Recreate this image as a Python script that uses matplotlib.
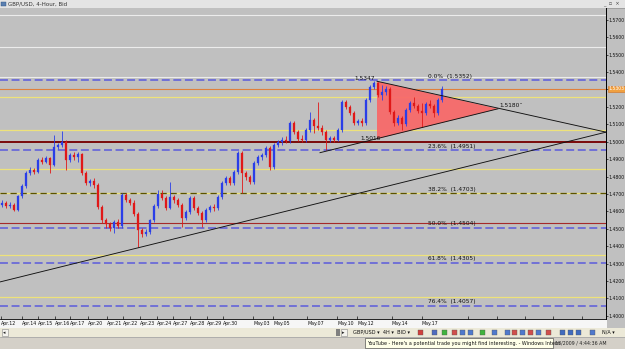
import numpy as np
import matplotlib
matplotlib.use('Agg')
import matplotlib.pyplot as plt
from matplotlib.patches import Rectangle, Polygon
import matplotlib.transforms as mtransforms

# ---------------- data (GBP/USD 4H) ----------------
opens = [1.4638, 1.4649, 1.4632, 1.4638, 1.4609, 1.4690, 1.4747, 1.4822, 1.4839, 1.4828,
         1.4897, 1.4885, 1.4908, 1.4868, 1.4971, 1.4983, 1.5000, 1.4897, 1.4925, 1.4914,
         1.4931, 1.4822, 1.4764, 1.4776, 1.4753, 1.4626, 1.4552, 1.4529, 1.4506, 1.4540,
         1.4517, 1.4695, 1.4667, 1.4649, 1.4586, 1.4494, 1.4471, 1.4483, 1.4552, 1.4632,
         1.4701, 1.4678, 1.4621, 1.4684, 1.4667, 1.4638, 1.4563, 1.4598, 1.4678, 1.4621,
         1.4592, 1.4552, 1.4609, 1.4626, 1.4621, 1.4684, 1.4764, 1.4793, 1.4764, 1.4828,
         1.4937, 1.4822, 1.4799, 1.4770, 1.4879, 1.4914, 1.4925, 1.4966, 1.4856, 1.4983,
         1.5000, 1.5012, 1.5006, 1.5109, 1.5058, 1.5017, 1.5012, 1.5069, 1.5127, 1.5092,
         1.5081, 1.5058, 1.5012, 1.5023, 1.5012, 1.5069, 1.5230, 1.5201, 1.5167, 1.5109,
         1.5121, 1.5109, 1.5242, 1.5316, 1.5339, 1.5270, 1.5288, 1.5305, 1.5173, 1.5109,
         1.5138, 1.5104, 1.5184, 1.5224, 1.5207, 1.5178, 1.5167, 1.5219, 1.5207, 1.5167,
         1.5242]
closes = [1.4649, 1.4632, 1.4638, 1.4609, 1.4690, 1.4747, 1.4822, 1.4839, 1.4828, 1.4897,
          1.4885, 1.4908, 1.4868, 1.4971, 1.4983, 1.5000, 1.4897, 1.4925, 1.4914, 1.4931,
          1.4822, 1.4764, 1.4776, 1.4753, 1.4626, 1.4552, 1.4529, 1.4506, 1.4540, 1.4517,
          1.4695, 1.4667, 1.4649, 1.4586, 1.4494, 1.4471, 1.4483, 1.4552, 1.4632, 1.4701,
          1.4678, 1.4621, 1.4684, 1.4667, 1.4638, 1.4563, 1.4598, 1.4678, 1.4621, 1.4592,
          1.4552, 1.4609, 1.4626, 1.4621, 1.4684, 1.4764, 1.4793, 1.4764, 1.4828, 1.4937,
          1.4822, 1.4799, 1.4770, 1.4879, 1.4914, 1.4925, 1.4966, 1.4856, 1.4983, 1.5000,
          1.5012, 1.5006, 1.5109, 1.5058, 1.5017, 1.5012, 1.5069, 1.5127, 1.5092, 1.5081,
          1.5058, 1.5012, 1.5023, 1.5012, 1.5069, 1.5230, 1.5201, 1.5167, 1.5109, 1.5121,
          1.5109, 1.5242, 1.5316, 1.5339, 1.5270, 1.5288, 1.5305, 1.5173, 1.5109, 1.5138,
          1.5104, 1.5184, 1.5224, 1.5207, 1.5178, 1.5167, 1.5219, 1.5207, 1.5167, 1.5242,
          1.5303]
highs = [1.4667, 1.4661, 1.4655, 1.4649, 1.4695, 1.4759, 1.4833, 1.4856, 1.4851, 1.4908,
         1.4914, 1.4920, 1.4914, 1.5040, 1.4994, 1.5063, 1.5012, 1.4937, 1.4943, 1.4943,
         1.4937, 1.4833, 1.4787, 1.4793, 1.4764, 1.4638, 1.4563, 1.4540, 1.4552, 1.4557,
         1.4707, 1.4707, 1.4678, 1.4667, 1.4598, 1.4506, 1.4500, 1.4557, 1.4644, 1.4724,
         1.4724, 1.4690, 1.4770, 1.4695, 1.4678, 1.4649, 1.4609, 1.4690, 1.4690, 1.4632,
         1.4603, 1.4621, 1.4638, 1.4644, 1.4695, 1.4776, 1.4805, 1.4805, 1.4839, 1.4948,
         1.4948, 1.4833, 1.4810, 1.4891, 1.4925, 1.4937, 1.4977, 1.4977, 1.4994, 1.5012,
         1.5029, 1.5035, 1.5121, 1.5121, 1.5069, 1.5040, 1.5081, 1.5173, 1.5138, 1.5230,
         1.5098, 1.5069, 1.5035, 1.5035, 1.5081, 1.5242, 1.5242, 1.5213, 1.5178, 1.5132,
         1.5138, 1.5253, 1.5328, 1.5347, 1.5345, 1.5328, 1.5322, 1.5316, 1.5184, 1.5155,
         1.5150, 1.5196, 1.5236, 1.5259, 1.5219, 1.5224, 1.5230, 1.5242, 1.5219, 1.5253,
         1.5322]
lows = [1.4626, 1.4621, 1.4621, 1.4603, 1.4603, 1.4678, 1.4736, 1.4810, 1.4816, 1.4822,
        1.4874, 1.4879, 1.4822, 1.4862, 1.4960, 1.4971, 1.4839, 1.4885, 1.4897, 1.4885,
        1.4810, 1.4753, 1.4747, 1.4736, 1.4615, 1.4534, 1.4506, 1.4488, 1.4477, 1.4506,
        1.4506, 1.4655, 1.4638, 1.4575, 1.4396, 1.4454, 1.4460, 1.4471, 1.4540, 1.4621,
        1.4667, 1.4609, 1.4615, 1.4649, 1.4626, 1.4511, 1.4552, 1.4586, 1.4609, 1.4580,
        1.4511, 1.4540, 1.4598, 1.4603, 1.4609, 1.4672, 1.4753, 1.4753, 1.4753, 1.4816,
        1.4707, 1.4782, 1.4759, 1.4759, 1.4868, 1.4897, 1.4914, 1.4839, 1.4845, 1.4971,
        1.4983, 1.4994, 1.4994, 1.5046, 1.5006, 1.5000, 1.5000, 1.5058, 1.5052, 1.5069,
        1.5040, 1.4954, 1.5000, 1.5000, 1.5006, 1.5058, 1.5190, 1.5155, 1.5098, 1.5098,
        1.5092, 1.5098, 1.5230, 1.5305, 1.5259, 1.5242, 1.5270, 1.5161, 1.5092, 1.5098,
        1.5069, 1.5092, 1.5173, 1.5196, 1.5167, 1.5086, 1.5155, 1.5196, 1.5144, 1.5155,
        1.5230]

date_labels = ["Apr.12", "Apr.14", "Apr.15", "Apr.16", "Apr.17", "Apr.20", "Apr.21", "Apr.22",
               "Apr.23", "Apr.24", "Apr.27", "Apr.28", "Apr.29", "Apr.30", "May.03", "May.05",
               "May.07", "May.10", "May.12", "May.14", "May.17"]
date_pos = [-0.25, 5, 9, 13.25, 17, 21.5, 26.25, 30.25, 34.5, 38.75, 42.75, 47, 51.25,
            55.25, 62.75, 67.75, 76.25, 83.75, 88.75, 97.5, 105]
future_ticks = [116.5, 123.75, 130.75, 137.75, 145]

fib_levels = [1.5352, 1.4951, 1.4703, 1.4504, 1.4305, 1.4057]
fib_names = ["0.0%", "23.6%", "38.2%", "50.0%", "61.8%", "76.4%"]
white_levels = [1.5730, 1.5546, 1.5374]
yellow_levels = [1.5259, 1.5069, 1.4845, 1.4703, 1.4350, 1.4109]
darkred_level = 1.5000
red_level = 1.4534
bid_price = 1.5303

tri_t = [93.75, 93.75, 124.0]
tri_p = [1.5347, 1.5016, 1.5189]
upper_line_t = [93.75, 151.0]
upper_line_p = [1.5347, 1.5055]
lower_line_t = [79.5, 124.0]
lower_line_p = [1.4937, 1.5189]
long_line_t = [-0.5, 151.0]
long_line_p = [1.4195, 1.5055]
price_ticks = [round(1.40 + 0.01 * k, 2) for k in range(18)]

# ---------------- figure ----------------
W, H = 625, 349
fig = plt.figure(figsize=(W / 100, H / 100), dpi=100)
fig.patch.set_facecolor('#c0c0c0')

def fx(px):
    return px / W

def fy(py):
    return 1 - py / H

# pixel-space overlay for window chrome
axp = fig.add_axes([0, 0, 1, 1], zorder=0)
axp.set_xlim(0, W)
axp.set_ylim(H, 0)
axp.axis('off')

# title bar
axp.add_patch(Rectangle((0, 0), W, 7.5, fc='#e4e4e4', ec='none'))
axp.plot([0, W], [7.5, 7.5], color='#9a9a9a', lw=0.6)
axp.add_patch(Rectangle((1, 1.5), 4.5, 4.5, fc='#5a7fb0', ec='#2a4f80', lw=0.3))
axp.text(8, 3.9, "GBP/USD, 4-Hour, Bid", fontsize=4, color='#333333', va='center', ha='left')
axp.text(603, 3.9, "_  \u25ab  \u00d7", fontsize=3.6, color='#444444', va='center', ha='left')

# date label row
axp.add_patch(Rectangle((0, 319), 607, 9, fc='#f6f6f6', ec='none'))
# scrollbar row
axp.add_patch(Rectangle((0, 328), W, 9, fc='#ece9d8', ec='none'))
axp.add_patch(Rectangle((1.5, 329), 6, 6.5, fc='#f4f3ee', ec='#888888', lw=0.4))
axp.text(4.5, 332.3, "\u25c2", fontsize=3.5, ha='center', va='center', color='#222222')
axp.add_patch(Rectangle((336, 329), 4, 6.5, fc='#808080', ec='none'))
axp.add_patch(Rectangle((341, 329), 5.5, 6.5, fc='#f4f3ee', ec='#888888', lw=0.4))
axp.text(343.7, 332.3, "\u25b8", fontsize=3.5, ha='center', va='center', color='#222222')
axp.text(353, 332.4, "GBP/USD \u25be  4H \u25be  BID \u25be", fontsize=3.6, ha='left', va='center', color='#111111')
icon_x = [418, 432, 442, 452, 460, 468, 480, 492, 505, 512, 520, 528, 536, 546, 560, 568, 576, 590]
icon_c = ['#cc2222', '#3355bb', '#22aa22', '#cc3333', '#3366cc', '#3366cc', '#22aa22', '#3366cc',
          '#3366cc', '#cc3333', '#3366cc', '#cc3333', '#3366cc', '#cc3333', '#2255bb', '#2255bb',
          '#2255bb', '#3366cc']
for ix, ic in zip(icon_x, icon_c):
    axp.add_patch(Rectangle((ix, 329.5), 5, 5.5, fc=ic, ec='#555555', lw=0.3, alpha=0.85))
axp.text(602, 332.4, "N/A \u25be", fontsize=3.5, ha='left', va='center', color='#111111')
# status bar
axp.add_patch(Rectangle((0, 337), W, 12, fc='#d4d0c8', ec='none'))
axp.plot([0, W], [337, 337], color='#a0a0a0', lw=0.5)
axp.add_patch(Rectangle((365, 338.2), 188, 9.5, fc='#ffffe8', ec='#333333', lw=0.4))
axp.text(367, 343, "YouTube - Here's a potential trade you might find interesting. - Windows Intern",
         fontsize=3.5, ha='left', va='center', color='#111111')
axp.text(555, 343, "18/2009 / 4:44:36 AM", fontsize=3.4, ha='left', va='center', color='#222222')

# ---------------- main chart ----------------
ax = fig.add_axes([0, fy(319), fx(606), fy(7.5) - fy(319)], zorder=1)
ax.set_facecolor('#c0c0c0')
ax.set_xlim(-0.5, 151)
ax.set_ylim(1.39822, 1.57705)

# horizontal levels
for lv in white_levels:
    ax.axhline(lv, color='#ececec', lw=0.8, zorder=1)
for lv in yellow_levels:
    ax.axhline(lv, color='#eee27a', lw=0.9, zorder=1)
ax.axhline(bid_price, color='#e0803c', lw=0.8, zorder=1)
ax.axhline(darkred_level, color='#7a0a0a', lw=1.4, zorder=1)
ax.axhline(red_level, color='#a52a2a', lw=0.8, zorder=1)
for lv, nm in zip(fib_levels, fib_names):
    if nm == "38.2%":
        ax.axhline(lv, color='#5a5200', lw=0.9, ls=(0, (5, 3)), zorder=1.2)
    else:
        ax.axhline(lv, color='#6a6ad8', lw=1.3, ls=(0, (4.4, 2.0)), zorder=1.2)
    ax.annotate(f"{nm}  ({lv:.4f})", xy=(106.5, lv), xytext=(0, 1.2), textcoords='offset points',
                fontsize=4.2, ha='left', va='bottom', color='#111111', zorder=4)

# triangle
ax.add_patch(Polygon(list(zip(tri_t, tri_p)), closed=True, fc='#f86a6a', ec='none', alpha=0.95, zorder=2))

# candles
idx = np.arange(len(closes))
for i in idx:
    o, c, h, l = opens[i], closes[i], highs[i], lows[i]
    col = '#2a3ee8' if c >= o else '#e01818'
    ax.plot([i, i], [l, h], color=col, lw=0.6, zorder=3, solid_capstyle='butt')
    bot = min(o, c)
    hgt = max(abs(c - o), 0.00025)
    ax.add_patch(Rectangle((i - 0.33, bot), 0.66, hgt, fc=col, ec=col, lw=0.2, zorder=3.1))

# trendlines
ax.plot(upper_line_t, upper_line_p, color='#111111', lw=0.65, zorder=3.5)
ax.plot(lower_line_t, lower_line_p, color='#111111', lw=0.65, zorder=3.5)
ax.plot(long_line_t, long_line_p, color='#111111', lw=0.65, zorder=3.5)

ax.text(93.2, 1.5347, "1.5347", fontsize=4.2, ha='right', va='bottom', color='#111111', zorder=4)
ax.text(89.5, 1.5016, "1.5016", fontsize=4.2, ha='left', va='center', color='#111111', zorder=4)
ax.text(124.3, 1.5192, "1.5180\u02dd", fontsize=4.2, ha='left', va='bottom', color='#111111', zorder=4)

# axes styling
for s in ['left', 'top']:
    ax.spines[s].set_visible(False)
ax.spines['right'].set_color('#000000')
ax.spines['right'].set_linewidth(0.7)
ax.spines['bottom'].set_color('#000000')
ax.spines['bottom'].set_linewidth(0.6)

ax.yaxis.tick_right()
ax.set_yticks(price_ticks)
# the 1.5300 label is hidden behind the current-bid box, as in the reference
ax.set_yticklabels(["" if abs(p - 1.53) < 1e-9 else f"{p:.4f}" for p in price_ticks])
ax.tick_params(axis='y', direction='out', length=1.5, width=0.5, pad=0.3, labelsize=3.3, colors='#111111')

ax.set_xticks(date_pos)
ax.set_xticklabels(date_labels, ha='left')
ax.set_xticks(future_ticks, minor=True)
ax.tick_params(axis='x', which='both', direction='in', length=2, width=0.5, pad=1.6, labelsize=3.4,
               colors='#111111')

# current bid label on the price scale
trans = mtransforms.blended_transform_factory(ax.transAxes, ax.transData)
ax.text(1.004, bid_price, f"{bid_price:.4f}", transform=trans, fontsize=3.3, color='white',
        ha='left', va='center', clip_on=False, zorder=10,
        bbox=dict(boxstyle='square,pad=0.2', fc='#f0a040', ec='#d07020', lw=0.4))

fig.savefig('out.png', dpi=100, facecolor=fig.get_facecolor())
